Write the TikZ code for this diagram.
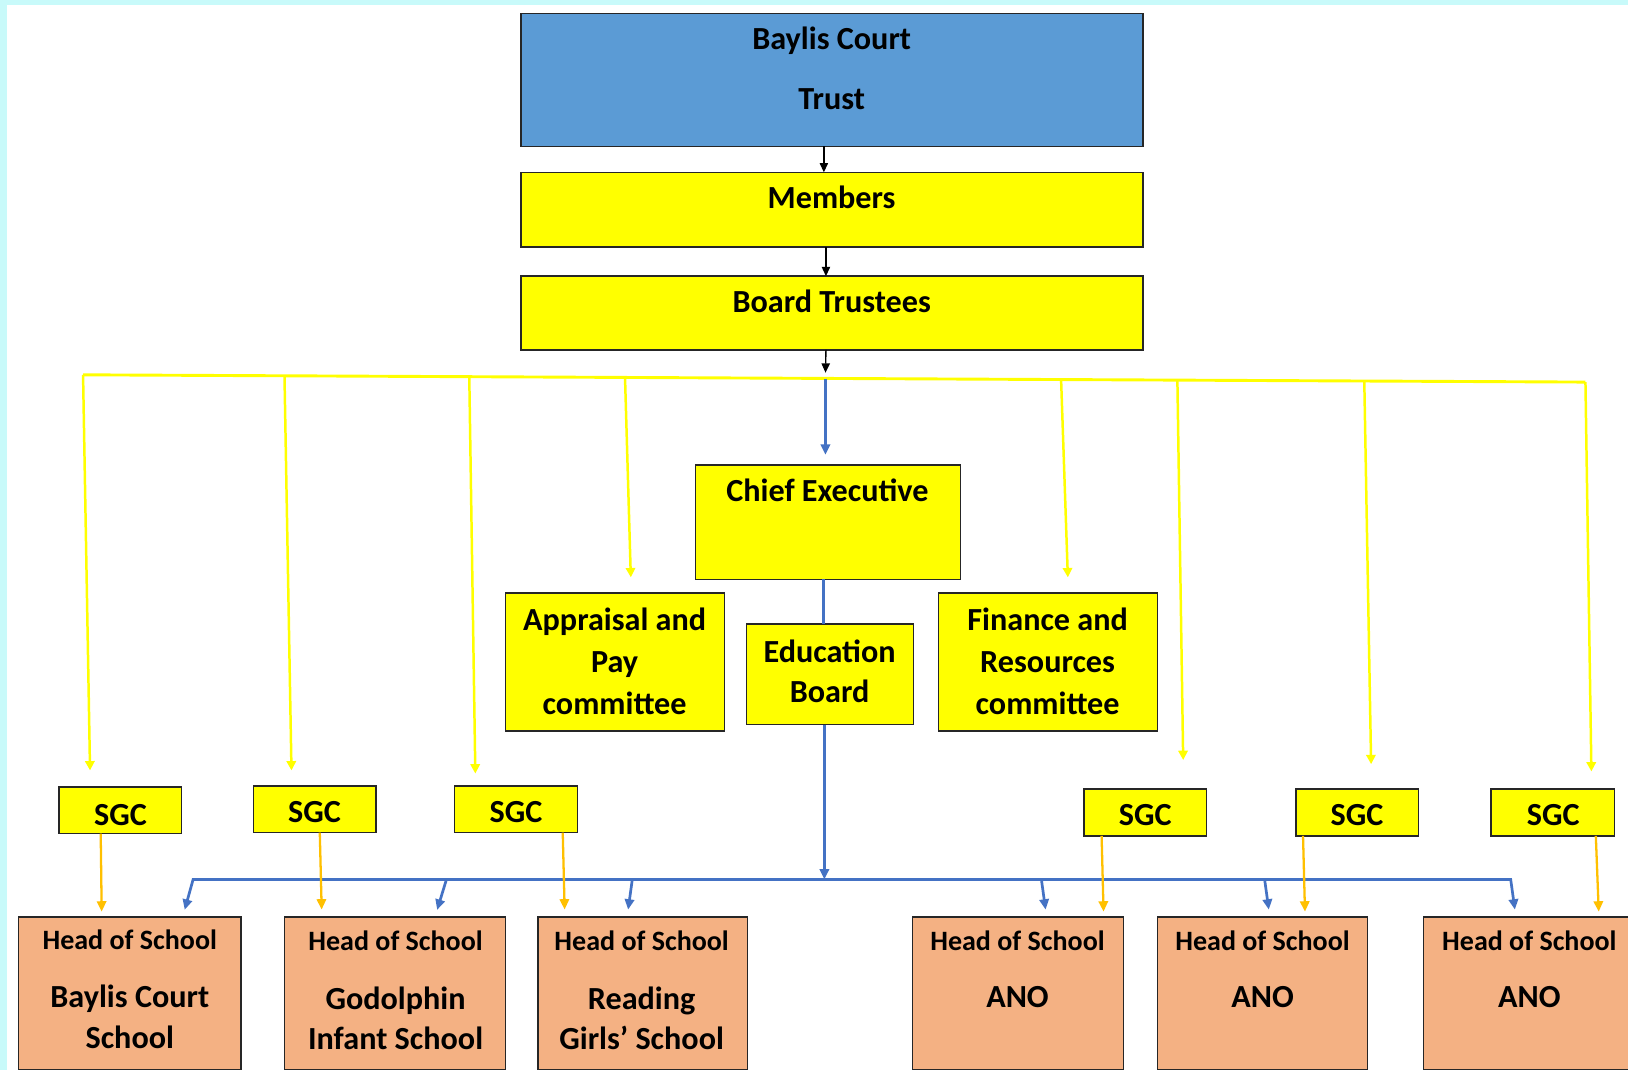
\documentclass[tikz,border=0pt]{standalone}
\usepackage{fontspec}
\setmainfont{Carlito}
\usetikzlibrary{arrows.meta}
\definecolor{bgcyan}{HTML}{C8FAFA}
\definecolor{trustblue}{HTML}{5B9BD5}
\definecolor{boxyellow}{HTML}{FFFF00}
\definecolor{headorange}{HTML}{F4B183}
\definecolor{lineblue}{HTML}{4472C4}
\definecolor{lineorange}{HTML}{FFC000}
\definecolor{lineyellow}{HTML}{FFFF00}
\begin{document}
\begin{tikzpicture}[x=1pt,y=-1pt,
  box/.style={draw=black!85, line width=1.4pt, inner sep=0pt, outer sep=0pt, anchor=north west},
  ybox/.style={box, fill=boxyellow},
  hbox/.style={box, fill=headorange},
  tx/.style={font=\fontsize{31}{37}\bfseries\selectfont, inner sep=0pt, text height=20pt, text depth=0pt, anchor=center},
  hx/.style={font=\fontsize{27}{32}\bfseries\selectfont, inner sep=0pt, text height=17.5pt, text depth=0pt, anchor=center},
  blk/.style={draw=black, line width=1.3pt, -{Triangle[length=9pt,width=8pt]}},
  ylw/.style={draw=lineyellow, line width=2.8pt},
  ylwa/.style={draw=lineyellow, line width=2.4pt, -{Triangle[length=9pt,width=9pt]}},
  blu/.style={draw=lineblue, line width=2.6pt},
  blua/.style={draw=lineblue, line width=2.6pt, -{Triangle[length=10pt,width=9pt]}},
  ora/.style={draw=lineorange, line width=2.2pt, -{Triangle[length=10pt,width=9pt]}}
]
\useasboundingbox (0,0) rectangle (1568,1031);
\fill[bgcyan] (0,0) rectangle (1568,1031);
\fill[white] (7,5) rectangle (1568,1031);

% top boxes
\node[box, fill=trustblue, minimum width=599pt, minimum height=128pt] (trust) at (502,13) {};
\node[ybox, minimum width=599pt, minimum height=72pt] (members) at (502,166) {};
\node[ybox, minimum width=599pt, minimum height=71pt] (board) at (502,266) {};
\node[tx] (t1) at (801,38) {Baylis Court};
\node[tx] (t2) at (801,95) {Trust};
\node[tx] (t3) at (801,191) {Members};
\node[tx] (t4) at (801,291) {Board Trustees};

% middle boxes
\node[ybox, minimum width=255pt, minimum height=110pt] (ce) at (670,448) {};
\node[tx] at (797,473) {Chief Executive};
\node[ybox, minimum width=211pt, minimum height=133pt] (app) at (487,571) {};
\node[tx] at (592,597) {Appraisal and};
\node[tx] at (592,638) {Pay};
\node[tx] at (592,678) {committee};
\node[ybox, minimum width=161pt, minimum height=97pt] (edu) at (719,601) {};
\node[tx] at (799,628) {Education};
\node[tx] at (799,667) {Board};
\node[ybox, minimum width=211pt, minimum height=133pt] (fin) at (904,571) {};
\node[tx] at (1009,597) {Finance and};
\node[tx] at (1009,638) {Resources};
\node[tx] at (1009,678) {committee};

% SGC boxes
\node[ybox, minimum width=118pt, minimum height=45pt] (sgc1) at (57,758) {};
\node[ybox, minimum width=118pt, minimum height=45pt] (sgc2) at (244,757) {};
\node[ybox, minimum width=118pt, minimum height=45pt] (sgc3) at (438,757) {};
\node[ybox, minimum width=118pt, minimum height=45pt] (sgc4) at (1044,760) {};
\node[ybox, minimum width=118pt, minimum height=45pt] (sgc5) at (1248,760) {};
\node[ybox, minimum width=119pt, minimum height=45pt] (sgc6) at (1436,760) {};
\node[tx] at (116,785) {SGC};
\node[tx] at (303,782) {SGC};
\node[tx] at (497,782) {SGC};
\node[tx] at (1103,785) {SGC};
\node[tx] at (1307,785) {SGC};
\node[tx] at (1496,785) {SGC};

% head boxes
\node[hbox, minimum width=214pt, minimum height=147pt] (h1) at (18,883) {};
\node[hbox, minimum width=213pt, minimum height=147pt] (h2) at (274,883) {};
\node[hbox, minimum width=202pt, minimum height=147pt] (h3) at (518,883) {};
\node[hbox, minimum width=203pt, minimum height=147pt] (h4) at (879,883) {};
\node[hbox, minimum width=202pt, minimum height=147pt] (h5) at (1115,883) {};
\node[hbox, minimum width=215pt, minimum height=147pt] (h6) at (1371,883) {};
\node[hx] at (125,906) {Head of School};
\node[tx] at (125,960) {Baylis Court};
\node[tx] at (125,1000) {School};
\node[hx] at (381,907) {Head of School};
\node[tx] at (381,962) {Godolphin};
\node[tx] at (381,1001) {Infant School};
\node[hx] at (618,907) {Head of School};
\node[tx] at (618,962) {Reading};
\node[tx] at (618,1001) {Girls’ School};
\node[hx] at (980,907) {Head of School};
\node[tx] at (980,960) {ANO};
\node[hx] at (1216,907) {Head of School};
\node[tx] at (1216,960) {ANO};
\node[hx] at (1473,907) {Head of School};
\node[tx] at (1473,960) {ANO};

% black arrows
\draw[blk] ([xshift=-8pt]trust.south) -- ([xshift=-8pt]members.north);
\draw[blk] ([xshift=-6pt]members.south) -- ([xshift=-6pt]board.north);
\coordinate (ybc) at (795,365);
\draw[blk, shorten >=6pt] ([xshift=-6pt]board.south) -- (ybc);

% yellow bus
\coordinate (yb1) at (80,361);
\coordinate (yb2) at (274,362);
\coordinate (yb3) at (452,364);
\coordinate (yb4) at (602,364);
\coordinate (yb5) at (1022,366);
\coordinate (yb6) at (1134,367);
\coordinate (yb7) at (1314,367);
\coordinate (yb8) at (1527,368);
\draw[ylw] (yb1) -- (yb8);
\draw[ylwa, shorten >=16pt] (yb1) -- ([xshift=-29pt]sgc1.north);
\draw[ylwa, shorten >=15pt] (yb2) -- ([xshift=-22pt]sgc2.north);
\draw[ylwa, shorten >=12pt] (yb3) -- ([xshift=-39pt]sgc3.north);
\draw[ylwa, shorten >=15pt] (yb4) -- ([xshift=15.5pt]app.north);
\draw[ylwa, shorten >=15pt] (yb5) -- ([xshift=19.5pt]fin.north);
\draw[ylwa, shorten >=28pt] (yb6) -- ([xshift=37pt]sgc4.north);
\draw[ylwa, shorten >=24pt] (yb7) -- ([xshift=14pt]sgc5.north);
\draw[ylwa, shorten >=17pt] (yb8) -- ([xshift=37.5pt]sgc6.north);

% blue lines
\draw[blua, shorten >=10pt] (ybc) -- ([xshift=-2.5pt]ce.north);
\draw[blu] ([xshift=-4.5pt]ce.south) -- ([xshift=-6.5pt]edu.north);
\coordinate (busc) at (794,847);
\coordinate (busL) at (186,847);
\coordinate (busR) at (1455,847);
\coordinate (b2) at (430,847);
\coordinate (b3) at (609,847);
\coordinate (b4) at (1003,847);
\coordinate (b5) at (1218,847);
\draw[blua] ([xshift=-5.5pt]edu.south) -- (busc);
\draw[blu, {Triangle[length=10pt,width=9pt]}-{Triangle[length=10pt,width=9pt]}, shorten <=7pt, shorten >=7pt]
  ([xshift=51pt]h1.north) -- (busL) -- (busR) -- ([xshift=-18.5pt]h6.north);
\draw[blua, shorten >=7pt] (b2) -- ([xshift=38.5pt]h2.north);
\draw[blua, shorten >=7pt] (b3) -- ([xshift=-15pt]h3.north);
\draw[blua, shorten >=7pt] (b4) -- ([xshift=27.5pt]h4.north);
\draw[blua, shorten >=7pt] (b5) -- ([xshift=7pt]h5.north);

% orange arrows
\draw[ora, shorten >=5pt] ([xshift=-19pt]sgc1.south) -- ([xshift=-27pt]h1.north);
\draw[ora, shorten >=7pt] ([xshift=5pt]sgc2.south) -- ([xshift=-70.5pt]h2.north);
\draw[ora, shorten >=7pt] ([xshift=45pt]sgc3.south) -- ([xshift=-75pt]h3.north);
\draw[ora, shorten >=5pt] ([xshift=-42pt]sgc4.south) -- ([xshift=82.5pt]h4.north);
\draw[ora, shorten >=5pt] ([xshift=-52pt]sgc5.south) -- ([xshift=41pt]h5.north);
\draw[ora, shorten >=5pt] ([xshift=41.5pt]sgc6.south) -- ([xshift=61.5pt]h6.north);
\end{tikzpicture}
\end{document}
